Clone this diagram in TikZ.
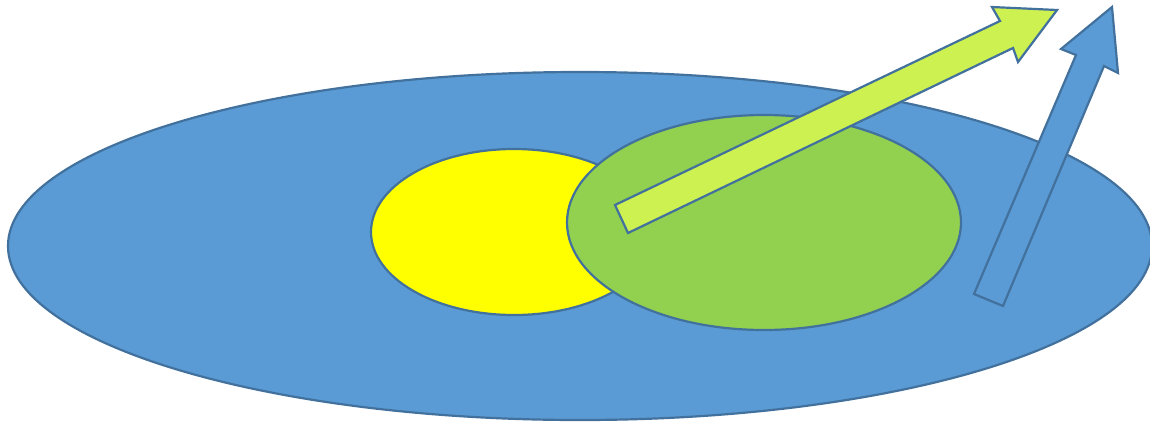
\documentclass[tikz,border=0pt]{standalone}
\definecolor{bigblue}{HTML}{5B9BD5}
\definecolor{edge}{HTML}{41719C}
\definecolor{yel}{HTML}{FFFF00}
\definecolor{grn}{HTML}{92D050}
\definecolor{lgrn}{HTML}{CEF152}
\begin{document}
\begin{tikzpicture}[x=1pt,y=-1pt,
  shapeline/.style={draw=edge,line width=2.2pt,line join=miter}]
\useasboundingbox (0,0) rectangle (1150,421);
\clip (0,0) rectangle (1150,421);
\fill[white] (0,0) rectangle (1150,421);
\draw[shapeline,fill=bigblue] (580,246) ellipse [x radius=572, y radius=174];
\draw[shapeline,fill=yel] (514,232) ellipse [x radius=143, y radius=83];
\draw[shapeline,fill=grn] (764,222.5) ellipse [x radius=197, y radius=107.5];
\draw[shapeline,fill=lgrn] (615,205) -- (1000,21) -- (992,7) -- (1057,10) -- (1018,62) -- (1013,48) -- (628,233) -- cycle;
\draw[shapeline,fill=bigblue] (974,294) -- (1076,55) -- (1061,49) -- (1112,7) -- (1118,73) -- (1104,66) -- (1003,306) -- cycle;
\end{tikzpicture}
\end{document}
